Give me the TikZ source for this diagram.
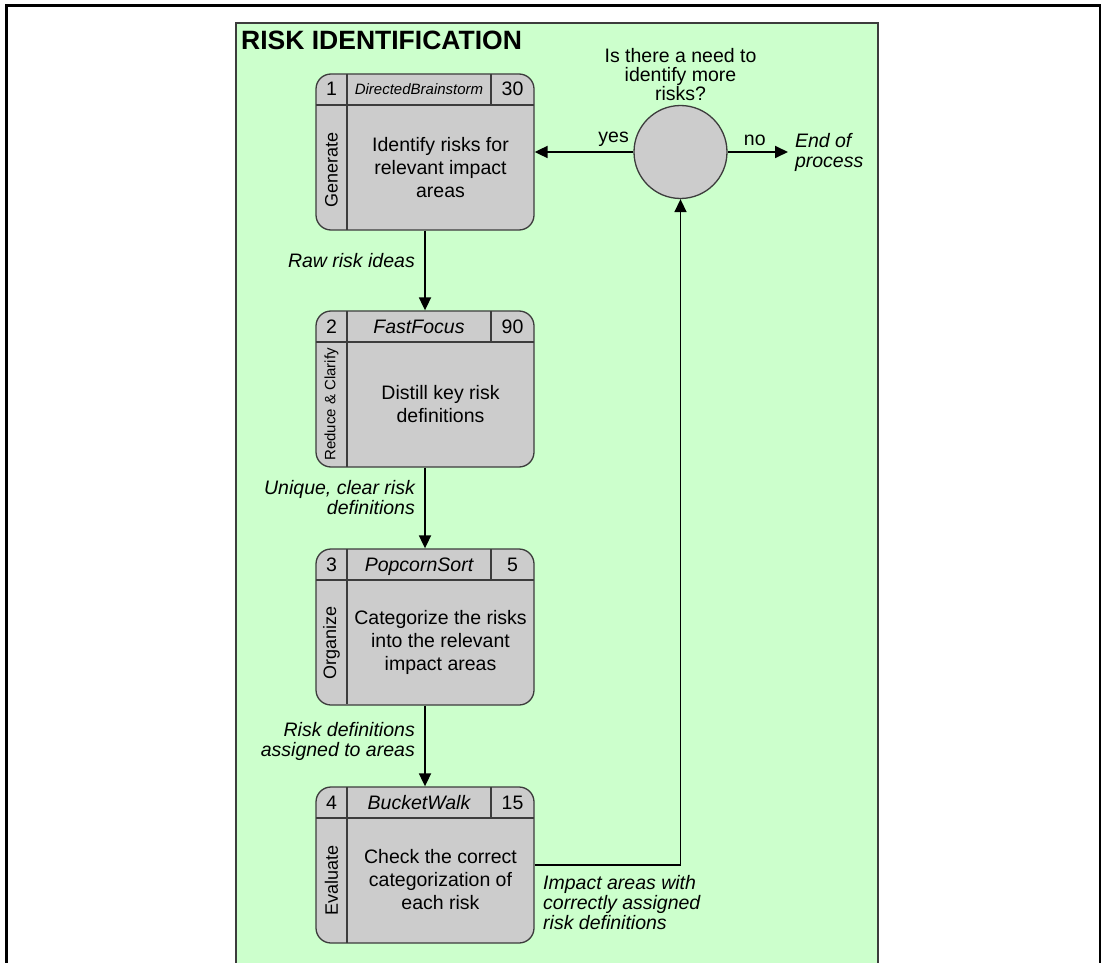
\documentclass[tikz,border=0pt]{standalone}
\usepackage{fontspec}
\setmainfont{Liberation Sans}
\usetikzlibrary{arrows.meta,positioning}
\definecolor{panelgreen}{HTML}{CCFFCC}
\definecolor{boxgray}{HTML}{CCCCCC}
\definecolor{edgegray}{HTML}{3C3C3C}

\begin{document}
\begin{tikzpicture}[x=1pt, y=-1pt,
        box/.style={draw=edgegray, line width=1.3pt, fill=boxgray, rounded corners=15pt,
            minimum width=218pt, minimum height=156pt, inner sep=0pt},
        rule/.style={draw=edgegray, line width=1.3pt},
        txt/.style={font=\fontsize{19.5}{23}\selectfont, align=center, inner sep=0pt},
        head/.style={txt, anchor=base},
        lbl/.style={font=\fontsize{19.5}{20}\selectfont\itshape, inner sep=0pt},
        phase/.style={font=\fontsize{18}{20}\selectfont, rotate=90, inner sep=0pt},
        flow/.style={line width=1.8pt, -{Triangle[length=13pt, width=12pt]}}]
        % \draw[help lines] (0,0) grid (1101,963);
        \useasboundingbox (0,0) rectangle (1101,963);

        \fill[panelgreen] (236,23) rectangle (878,963);
        \draw[edgegray, line width=1.3pt] (236,963) -- (236,23) -- (878,23) -- (878,963);
        \draw[line width=3pt] (6.5,963) -- (6.5,6) -- (1100,6) -- (1100,963);

        \node[anchor=base west, inner sep=0pt, font=\fontsize{26.5}{30}\selectfont\bfseries] (title) at (241,50) {RISK IDENTIFICATION};

        % step 1
        \node[box] (b1) at (425,152) {};
        \draw[rule] (316,105) -- (534,105);
        \draw[rule] (347,74) -- (347,230);
        \draw[rule] (491,74) -- (491,105);
        \node[head] (n1) at (331.5,96) {1};
        \node[head, font=\fontsize{15}{18}\selectfont\itshape] (m1) at (419,95) {DirectedBrainstorm};
        \node[head] (d1) at (512.5,96) {30};
        \node[phase] (p1) at (331.5,170) {Generate};
        \node[txt] (t1) at (440.5,167.5) {Identify risks for\\relevant impact\\areas};

        % step 2
        \node[box] (b2) at (425,389) {};
        \draw[rule] (316,342) -- (534,342);
        \draw[rule] (347,311) -- (347,467);
        \draw[rule] (491,311) -- (491,342);
        \node[head] (n2) at (331.5,333) {2};
        \node[head, font=\fontsize{19.5}{23}\selectfont\itshape] (m2) at (419,333) {FastFocus};
        \node[head] (d2) at (512.5,333) {90};
        \node[phase, font=\fontsize{15}{18}\selectfont] (p2) at (331.5,404.5) {Reduce \& Clarify};
        \node[txt] (t2) at (440.5,404.5) {Distill key risk\\definitions};

        % step 3
        \node[box] (b3) at (425,627) {};
        \draw[rule] (316,580) -- (534,580);
        \draw[rule] (347,549) -- (347,704);
        \draw[rule] (491,549) -- (491,580);
        \node[head] (n3) at (331.5,571) {3};
        \node[head, font=\fontsize{19.5}{23}\selectfont\itshape] (m3) at (419,571) {PopcornSort};
        \node[head] (d3) at (512.5,571) {5};
        \node[phase] (p3) at (331.5,642.5) {Organize};
        \node[txt] (t3) at (440.5,642) {Categorize the risks\\into the relevant\\impact areas};

        % step 4
        \node[box] (b4) at (425,865) {};
        \draw[rule] (316,818) -- (534,818);
        \draw[rule] (347,787) -- (347,943);
        \draw[rule] (491,787) -- (491,818);
        \node[head] (n4) at (331.5,809) {4};
        \node[head, font=\fontsize{19.5}{23}\selectfont\itshape] (m4) at (419,809) {BucketWalk};
        \node[head] (d4) at (512.5,809) {15};
        \node[phase] (p4) at (331.5,880.5) {Evaluate};
        \node[txt] (t4) at (440.5,879.5) {Check the correct\\categorization of\\each risk};

        % decision
        \node[circle, draw=edgegray, line width=1.3pt, fill=boxgray, minimum size=93pt, inner sep=0pt] (q) at (680.5,152) {};
        \node[txt, font=\fontsize{19.5}{19}\selectfont, above=4pt of q] (qt) {Is there a need to\\identify more\\risks?};
        \node[lbl, align=left, anchor=west, outer sep=7pt] (end) at (788,152) {End of\\process};

        \node[lbl, anchor=east] (l1) at (415,261) {Raw risk ideas};
        \node[lbl, anchor=east, align=right] (l2) at (415,498) {Unique, clear risk\\definitions};
        \node[lbl, anchor=east, align=right] (l3) at (415,741) {Risk definitions\\assigned to areas};
        \node[lbl, anchor=north west, align=left] (l4) at (543,875) {Impact areas with\\correctly assigned\\risk definitions};

        \draw[flow] (b1) -- (b2);
        \draw[flow] (b2) -- (b3);
        \draw[flow] (b3) -- (b4);
        \draw[flow, line width=1.5pt] (b4) -| (q);
        \draw[flow] (q) -- node[txt, pos=0.2, above=5pt] (yes) {yes} (b1);
        \draw[flow] (q) -- node[txt, pos=0.45, above=5pt] (no) {no} (end);
    \end{tikzpicture}
\end{document}
